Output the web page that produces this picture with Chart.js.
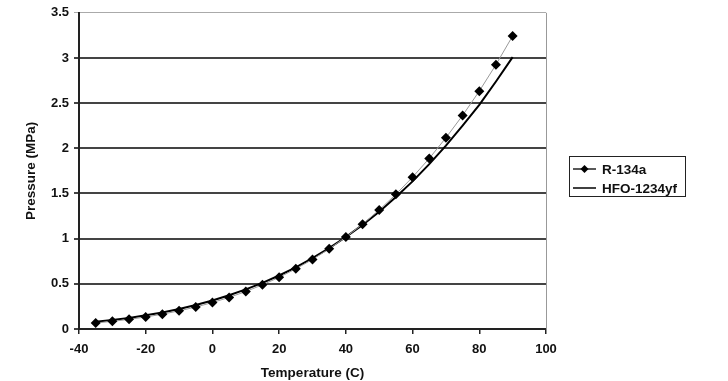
<!DOCTYPE html>
<html>
<head>
<meta charset="utf-8">
<script src="https://cdn.jsdelivr.net/npm/chart.js@4/dist/chart.umd.min.js"></script>
<style>
  body { margin: 0; background: #fff; }
  #wrap { position: relative; width: 728px; height: 381px; }
  #legend {
    position: absolute; left: 569px; top: 156px; width: 115px; height: 39px;
    border: 1px solid #222; font: bold 13.5px "Liberation Sans", Arial, sans-serif; color: #111;
  }
  #legend .row { position: absolute; left: 3px; height: 16px; display: flex; align-items: center; }
  #legend svg { margin-right: 6px; }
</style>
</head>
<body>
<div id="wrap">
  <canvas id="chart" width="728" height="381"></canvas>
  <div id="legend">
    <div class="row" style="top:4px">
      <svg width="23" height="12"><line x1="0" y1="6" x2="23" y2="6" stroke="#222" stroke-width="1.5"/><polygon points="11.5,2 15.5,6 11.5,10 7.5,6" fill="#000"/></svg>R-134a
    </div>
    <div class="row" style="top:23px">
      <svg width="23" height="12"><line x1="0" y1="6" x2="23" y2="6" stroke="#000" stroke-width="1.5"/></svg>HFO-1234yf
    </div>
  </div>
</div>
<script>
// temperature (C)
const temps = [-35, -30, -25, -20, -15, -10, -5, 0, 5, 10, 15, 20, 25, 30, 35, 40, 45, 50, 55, 60, 65, 70, 75, 80, 85, 90];
// pressure (MPa)
const r134a = [0.066, 0.085, 0.107, 0.133, 0.164, 0.201, 0.243, 0.293, 0.350, 0.415, 0.489, 0.572, 0.666, 0.770, 0.887, 1.017, 1.160, 1.318, 1.491, 1.681, 1.888, 2.117, 2.364, 2.633, 2.926, 3.244];
const hfo1234yf = [0.080, 0.099, 0.123, 0.151, 0.183, 0.221, 0.265, 0.316, 0.374, 0.439, 0.511, 0.592, 0.683, 0.784, 0.895, 1.018, 1.152, 1.299, 1.460, 1.634, 1.825, 2.030, 2.250, 2.480, 2.740, 3.010];

const FONT = '"Liberation Sans", Arial, sans-serif';

// grey frame on the right side of the plot
const frame = {
  id: 'frame',
  afterDraw(chart) {
    const { ctx, chartArea: a } = chart;
    ctx.save();
    ctx.strokeStyle = '#999';
    ctx.lineWidth = 1;
    ctx.beginPath();
    ctx.moveTo(a.right + 0.5, a.top);
    ctx.lineTo(a.right + 0.5, a.bottom);
    ctx.stroke();
    ctx.restore();
  }
};

new Chart(document.getElementById('chart'), {
  type: 'line',
  data: {
    datasets: [{
      label: 'R-134a',
      data: temps.map((t, i) => ({ x: t, y: r134a[i] })),
      borderColor: '#999',
      borderWidth: 1,
      pointStyle: 'rectRot',
      pointRadius: 5,
      pointBackgroundColor: '#000',
      pointBorderColor: '#000',
      pointBorderWidth: 0,
      tension: 0
    }, {
      label: 'HFO-1234yf',
      data: temps.map((t, i) => ({ x: t, y: hfo1234yf[i] })),
      borderColor: '#000',
      borderWidth: 2,
      pointRadius: 0,
      tension: 0
    }]
  },
  options: {
    responsive: false,
    animation: false,
    layout: { padding: { top: 10, right: 182, left: 0, bottom: 0 } },
    plugins: { legend: { display: false }, tooltip: { enabled: false } },
    scales: {
      x: {
        type: 'linear', min: -40, max: 100,
        afterFit: s => { s.height = 52; },
        ticks: { stepSize: 20, padding: 8, color: '#111', font: { family: FONT, size: 13, weight: 'bold' } },
        grid: { drawOnChartArea: false, tickLength: 5, color: '#222', lineWidth: 1.5 },
        border: { color: '#222', width: 2 },
        title: { display: true, text: 'Temperature (C)', color: '#111', padding: { top: 0, bottom: 0 },
                 font: { family: FONT, size: 13.5, weight: 'bold' } }
      },
      y: {
        min: 0, max: 3.5,
        afterFit: s => { s.width = 79; },
        ticks: { stepSize: 0.5, padding: 5, color: '#111', callback: v => String(v),
                 font: { family: FONT, size: 13, weight: 'bold' } },
        grid: {
          tickLength: 5,
          color: c => c.tick.value === 3.5 ? '#aaa' : '#444',
          lineWidth: c => c.tick.value === 3.5 ? 1 : 2
        },
        border: { color: '#222', width: 2 },
        title: { display: true, text: 'Pressure (MPa)', color: '#111', padding: { top: 23, bottom: 0 },
                 font: { family: FONT, size: 13.5, weight: 'bold' } }
      }
    }
  },
  plugins: [frame]
});
</script>
</body>
</html>
